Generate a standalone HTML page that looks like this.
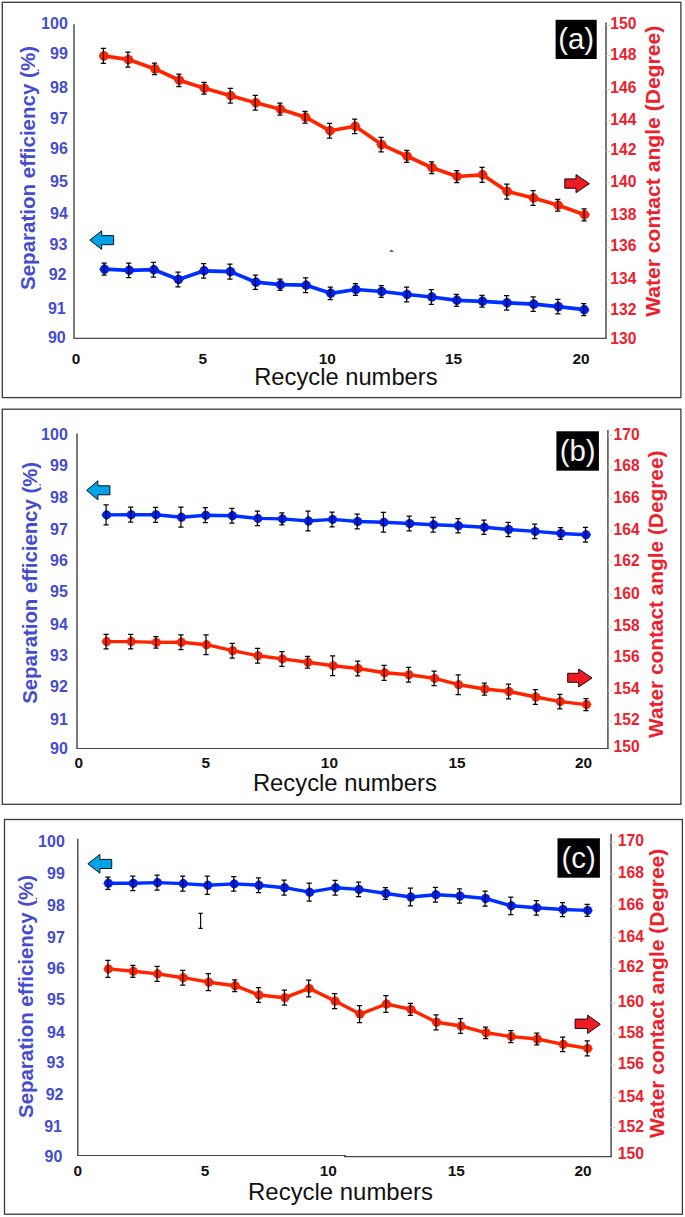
<!DOCTYPE html>
<html lang="en">
<head>
<meta charset="utf-8">
<title>Separation efficiency and water contact angle vs recycle numbers</title>
<style>
html,body{margin:0;padding:0;background:#fff;}
body{width:685px;height:1217px;overflow:hidden;font-family:'Liberation Sans', sans-serif;}
svg{display:block;}
svg text{font-family:'Liberation Sans', sans-serif;}
</style>
</head>
<body>
<svg width="685" height="1217" viewBox="0 0 685 1217">
<rect x="0" y="0" width="685" height="1217" fill="#fff"/>
<g id="panel-a">
<rect x="2.3" y="2.3" width="678.6" height="395.3" fill="#fff" stroke="#3a3a3a" stroke-width="1.3"/>
<path d="M74 24.3V338" stroke="#5a5a5a" stroke-width="1.6" fill="none"/>
<path d="M606 22.5V338" stroke="#6a6a6a" stroke-width="1.8" fill="none"/>
<path d="M73.3 338.4H606.7" stroke="#484848" stroke-width="1.15" fill="none"/>
<path d="M606 25.4h4.4M606 55.6h4.4M606 89.4h4.4M606 120.8h4.4M606 151.4h4.4M606 182.8h4.4M606 215.9h4.4M606 247.3h4.4M606 279.9h4.4M606 311.3h4.4" stroke="#cfcfcf" stroke-width="1" fill="none"/>
<text x="67.8" y="28.5" text-anchor="end" font-size="16.0" font-weight="700" fill="#444cd0" textLength="26.7" lengthAdjust="spacingAndGlyphs">100</text>
<text x="67.8" y="59.4" text-anchor="end" font-size="16.0" font-weight="700" fill="#444cd0" textLength="17.8" lengthAdjust="spacingAndGlyphs">99</text>
<text x="67.8" y="92.5" text-anchor="end" font-size="16.0" font-weight="700" fill="#444cd0" textLength="17.8" lengthAdjust="spacingAndGlyphs">98</text>
<text x="67.8" y="124.1" text-anchor="end" font-size="16.0" font-weight="700" fill="#444cd0" textLength="17.8" lengthAdjust="spacingAndGlyphs">97</text>
<text x="67.8" y="154.4" text-anchor="end" font-size="16.0" font-weight="700" fill="#444cd0" textLength="17.8" lengthAdjust="spacingAndGlyphs">96</text>
<text x="67.8" y="186.9" text-anchor="end" font-size="16.0" font-weight="700" fill="#444cd0" textLength="17.8" lengthAdjust="spacingAndGlyphs">95</text>
<text x="67.8" y="219.4" text-anchor="end" font-size="16.0" font-weight="700" fill="#444cd0" textLength="17.8" lengthAdjust="spacingAndGlyphs">94</text>
<text x="67.3" y="250.1" text-anchor="end" font-size="16.0" font-weight="700" fill="#444cd0" textLength="17.8" lengthAdjust="spacingAndGlyphs">93</text>
<text x="66.5" y="280" text-anchor="end" font-size="16.0" font-weight="700" fill="#444cd0" textLength="17.8" lengthAdjust="spacingAndGlyphs">92</text>
<text x="65.7" y="313.8" text-anchor="end" font-size="16.0" font-weight="700" fill="#444cd0" textLength="17.8" lengthAdjust="spacingAndGlyphs">91</text>
<text x="65.7" y="343.2" text-anchor="end" font-size="16.0" font-weight="700" fill="#444cd0" textLength="17.8" lengthAdjust="spacingAndGlyphs">90</text>
<text x="610.3" y="29.4" font-size="16.2" font-weight="700" fill="#ef202c" textLength="26" lengthAdjust="spacingAndGlyphs">150</text>
<text x="610.3" y="59.6" font-size="16.2" font-weight="700" fill="#ef202c" textLength="26" lengthAdjust="spacingAndGlyphs">148</text>
<text x="610.3" y="93.4" font-size="16.2" font-weight="700" fill="#ef202c" textLength="26" lengthAdjust="spacingAndGlyphs">146</text>
<text x="610.3" y="124.8" font-size="16.2" font-weight="700" fill="#ef202c" textLength="26" lengthAdjust="spacingAndGlyphs">144</text>
<text x="610.3" y="155.4" font-size="16.2" font-weight="700" fill="#ef202c" textLength="26" lengthAdjust="spacingAndGlyphs">142</text>
<text x="610.3" y="186.8" font-size="16.2" font-weight="700" fill="#ef202c" textLength="26" lengthAdjust="spacingAndGlyphs">140</text>
<text x="610.3" y="219.9" font-size="16.2" font-weight="700" fill="#ef202c" textLength="26" lengthAdjust="spacingAndGlyphs">138</text>
<text x="610.3" y="251.3" font-size="16.2" font-weight="700" fill="#ef202c" textLength="26" lengthAdjust="spacingAndGlyphs">136</text>
<text x="610.3" y="283.9" font-size="16.2" font-weight="700" fill="#ef202c" textLength="26" lengthAdjust="spacingAndGlyphs">134</text>
<text x="610.3" y="315.3" font-size="16.2" font-weight="700" fill="#ef202c" textLength="26" lengthAdjust="spacingAndGlyphs">132</text>
<text x="610.3" y="344.4" font-size="16.2" font-weight="700" fill="#ef202c" textLength="26" lengthAdjust="spacingAndGlyphs">130</text>
<text transform="translate(30.1 168) rotate(-90)" x="0" y="5.05" text-anchor="middle" font-size="19.8" font-weight="700" fill="#444cd0" textLength="244" lengthAdjust="spacingAndGlyphs">Separation efficiency (%)</text>
<text transform="translate(654.6 171.3) rotate(-90)" x="0" y="5" text-anchor="middle" font-size="19.6" font-weight="700" fill="#ef202c" textLength="291" lengthAdjust="spacingAndGlyphs">Water contact angle (Degree)</text>
<text x="76" y="363.7" text-anchor="middle" font-size="15.4" font-weight="700" fill="#111">0</text>
<text x="202.7" y="363.7" text-anchor="middle" font-size="15.4" font-weight="700" fill="#111">5</text>
<text x="327.2" y="363.7" text-anchor="middle" font-size="15.4" font-weight="700" fill="#111">10</text>
<text x="453.6" y="363.7" text-anchor="middle" font-size="15.4" font-weight="700" fill="#111">15</text>
<text x="581" y="363.7" text-anchor="middle" font-size="15.4" font-weight="700" fill="#111">20</text>
<text x="254.2" y="385.2" font-size="23.4" fill="#111" textLength="183.4" lengthAdjust="spacingAndGlyphs">Recycle numbers</text>
<rect x="555.6" y="19.8" width="41.1" height="39.2" fill="#000"/>
<text x="576.15" y="49.1" text-anchor="middle" font-size="29.4" fill="#f4f4f4">(a)</text>
<path d="M89.8 240.1L101.7 230.8V235.6H113.6V244.7H101.7V249.4Z" fill="#00a2e8" stroke="#0a1418" stroke-width="1" stroke-linejoin="miter"/>
<path d="M589.4 183.65L576 174.6V178.9H564.8V188.2H576V192.7Z" fill="#ed1c24" stroke="#1e0606" stroke-width="1" stroke-linejoin="miter"/>
<polyline points="103.9,55.9 128.4,59.6 155,68.9 179.4,80.3 204.5,88.3 230.8,95.8 255.8,102.8 280.4,109.2 305.5,117.2 330.1,130.8 355.2,126.3 381.6,144.6 407.2,156.3 432.1,167.7 457.2,176.5 482.6,174.8 507.3,191.5 533.6,198 558.2,205.3 584.6,214.8" fill="none" stroke="#ff2400" stroke-width="3.7" stroke-linejoin="round" stroke-linecap="round"/>
<g fill="#ff2400"><circle cx="103.9" cy="55.9" r="4.7"/><path d="M98.55 55.9l5.35 -5.35l5.35 5.35l-5.35 5.35z"/><circle cx="128.4" cy="59.6" r="4.7"/><path d="M123.05 59.6l5.35 -5.35l5.35 5.35l-5.35 5.35z"/><circle cx="155" cy="68.9" r="4.7"/><path d="M149.65 68.9l5.35 -5.35l5.35 5.35l-5.35 5.35z"/><circle cx="179.4" cy="80.3" r="4.7"/><path d="M174.05 80.3l5.35 -5.35l5.35 5.35l-5.35 5.35z"/><circle cx="204.5" cy="88.3" r="4.7"/><path d="M199.15 88.3l5.35 -5.35l5.35 5.35l-5.35 5.35z"/><circle cx="230.8" cy="95.8" r="4.7"/><path d="M225.45 95.8l5.35 -5.35l5.35 5.35l-5.35 5.35z"/><circle cx="255.8" cy="102.8" r="4.7"/><path d="M250.45 102.8l5.35 -5.35l5.35 5.35l-5.35 5.35z"/><circle cx="280.4" cy="109.2" r="4.7"/><path d="M275.05 109.2l5.35 -5.35l5.35 5.35l-5.35 5.35z"/><circle cx="305.5" cy="117.2" r="4.7"/><path d="M300.15 117.2l5.35 -5.35l5.35 5.35l-5.35 5.35z"/><circle cx="330.1" cy="130.8" r="4.7"/><path d="M324.75 130.8l5.35 -5.35l5.35 5.35l-5.35 5.35z"/><circle cx="355.2" cy="126.3" r="4.7"/><path d="M349.85 126.3l5.35 -5.35l5.35 5.35l-5.35 5.35z"/><circle cx="381.6" cy="144.6" r="4.7"/><path d="M376.25 144.6l5.35 -5.35l5.35 5.35l-5.35 5.35z"/><circle cx="407.2" cy="156.3" r="4.7"/><path d="M401.85 156.3l5.35 -5.35l5.35 5.35l-5.35 5.35z"/><circle cx="432.1" cy="167.7" r="4.7"/><path d="M426.75 167.7l5.35 -5.35l5.35 5.35l-5.35 5.35z"/><circle cx="457.2" cy="176.5" r="4.7"/><path d="M451.85 176.5l5.35 -5.35l5.35 5.35l-5.35 5.35z"/><circle cx="482.6" cy="174.8" r="4.7"/><path d="M477.25 174.8l5.35 -5.35l5.35 5.35l-5.35 5.35z"/><circle cx="507.3" cy="191.5" r="4.7"/><path d="M501.95 191.5l5.35 -5.35l5.35 5.35l-5.35 5.35z"/><circle cx="533.6" cy="198" r="4.7"/><path d="M528.25 198l5.35 -5.35l5.35 5.35l-5.35 5.35z"/><circle cx="558.2" cy="205.3" r="4.7"/><path d="M552.85 205.3l5.35 -5.35l5.35 5.35l-5.35 5.35z"/><circle cx="584.6" cy="214.8" r="4.7"/><path d="M579.25 214.8l5.35 -5.35l5.35 5.35l-5.35 5.35z"/></g>
<path d="M103.4 48.4V63.4M100.8 48.4h5.2M100.8 63.4h5.2M127.9 52.1V67.1M125.3 52.1h5.2M125.3 67.1h5.2M154.5 63.1V74.7M151.9 63.1h5.2M151.9 74.7h5.2M178.9 74.1V86.5M176.3 74.1h5.2M176.3 86.5h5.2M204 82.4V94.2M201.4 82.4h5.2M201.4 94.2h5.2M230.3 88.4V103.2M227.7 88.4h5.2M227.7 103.2h5.2M255.3 95.4V110.2M252.7 95.4h5.2M252.7 110.2h5.2M279.9 103.2V115.2M277.3 103.2h5.2M277.3 115.2h5.2M305 111.4V123M302.4 111.4h5.2M302.4 123h5.2M329.6 123.4V138.2M327 123.4h5.2M327 138.2h5.2M354.7 119V133.6M352.1 119h5.2M352.1 133.6h5.2M381.1 137.3V151.9M378.5 137.3h5.2M378.5 151.9h5.2M406.7 150.3V162.3M404.1 150.3h5.2M404.1 162.3h5.2M431.6 161.8V173.6M429 161.8h5.2M429 173.6h5.2M456.7 170.5V182.5M454.1 170.5h5.2M454.1 182.5h5.2M482.1 167.3V182.3M479.5 167.3h5.2M479.5 182.3h5.2M506.8 184V199M504.2 184h5.2M504.2 199h5.2M533.1 190.6V205.4M530.5 190.6h5.2M530.5 205.4h5.2M557.7 199.4V211.2M555.1 199.4h5.2M555.1 211.2h5.2M584.1 208.8V220.8M581.5 208.8h5.2M581.5 220.8h5.2" stroke="#050505" stroke-width="1.25" fill="none"/>
<polyline points="104.6,269.2 129.2,270.3 153.9,269.7 178.5,279.5 204.1,270.8 230.4,271.6 255.9,282.2 280.5,284.7 306.1,285.2 330.8,293.3 355.9,289.5 381.7,291.5 407.1,294.5 431.8,297 456.9,300.3 482.5,301.3 507.1,302.8 533.7,304.1 558.4,306.6 584.2,309.7" fill="none" stroke="#0030ff" stroke-width="3.7" stroke-linejoin="round" stroke-linecap="round"/>
<g fill="#0020ee"><circle cx="104.6" cy="269.2" r="4.7"/><path d="M99.25 269.2l5.35 -5.35l5.35 5.35l-5.35 5.35z"/><circle cx="129.2" cy="270.3" r="4.7"/><path d="M123.85 270.3l5.35 -5.35l5.35 5.35l-5.35 5.35z"/><circle cx="153.9" cy="269.7" r="4.7"/><path d="M148.55 269.7l5.35 -5.35l5.35 5.35l-5.35 5.35z"/><circle cx="178.5" cy="279.5" r="4.7"/><path d="M173.15 279.5l5.35 -5.35l5.35 5.35l-5.35 5.35z"/><circle cx="204.1" cy="270.8" r="4.7"/><path d="M198.75 270.8l5.35 -5.35l5.35 5.35l-5.35 5.35z"/><circle cx="230.4" cy="271.6" r="4.7"/><path d="M225.05 271.6l5.35 -5.35l5.35 5.35l-5.35 5.35z"/><circle cx="255.9" cy="282.2" r="4.7"/><path d="M250.55 282.2l5.35 -5.35l5.35 5.35l-5.35 5.35z"/><circle cx="280.5" cy="284.7" r="4.7"/><path d="M275.15 284.7l5.35 -5.35l5.35 5.35l-5.35 5.35z"/><circle cx="306.1" cy="285.2" r="4.7"/><path d="M300.75 285.2l5.35 -5.35l5.35 5.35l-5.35 5.35z"/><circle cx="330.8" cy="293.3" r="4.7"/><path d="M325.45 293.3l5.35 -5.35l5.35 5.35l-5.35 5.35z"/><circle cx="355.9" cy="289.5" r="4.7"/><path d="M350.55 289.5l5.35 -5.35l5.35 5.35l-5.35 5.35z"/><circle cx="381.7" cy="291.5" r="4.7"/><path d="M376.35 291.5l5.35 -5.35l5.35 5.35l-5.35 5.35z"/><circle cx="407.1" cy="294.5" r="4.7"/><path d="M401.75 294.5l5.35 -5.35l5.35 5.35l-5.35 5.35z"/><circle cx="431.8" cy="297" r="4.7"/><path d="M426.45 297l5.35 -5.35l5.35 5.35l-5.35 5.35z"/><circle cx="456.9" cy="300.3" r="4.7"/><path d="M451.55 300.3l5.35 -5.35l5.35 5.35l-5.35 5.35z"/><circle cx="482.5" cy="301.3" r="4.7"/><path d="M477.15 301.3l5.35 -5.35l5.35 5.35l-5.35 5.35z"/><circle cx="507.1" cy="302.8" r="4.7"/><path d="M501.75 302.8l5.35 -5.35l5.35 5.35l-5.35 5.35z"/><circle cx="533.7" cy="304.1" r="4.7"/><path d="M528.35 304.1l5.35 -5.35l5.35 5.35l-5.35 5.35z"/><circle cx="558.4" cy="306.6" r="4.7"/><path d="M553.05 306.6l5.35 -5.35l5.35 5.35l-5.35 5.35z"/><circle cx="584.2" cy="309.7" r="4.7"/><path d="M578.85 309.7l5.35 -5.35l5.35 5.35l-5.35 5.35z"/></g>
<path d="M104.1 263.2V275.2M101.5 263.2h5.2M101.5 275.2h5.2M128.7 263V277.6M126.1 263h5.2M126.1 277.6h5.2M153.4 262.3V277.1M150.8 262.3h5.2M150.8 277.1h5.2M178 272.2V286.8M175.4 272.2h5.2M175.4 286.8h5.2M203.6 263.5V278.1M201 263.5h5.2M201 278.1h5.2M229.9 264.2V279M227.3 264.2h5.2M227.3 279h5.2M255.4 275V289.4M252.8 275h5.2M252.8 289.4h5.2M280 279V290.4M277.4 279h5.2M277.4 290.4h5.2M305.6 277.9V292.5M303 277.9h5.2M303 292.5h5.2M330.3 287.1V299.5M327.7 287.1h5.2M327.7 299.5h5.2M355.4 283.6V295.4M352.8 283.6h5.2M352.8 295.4h5.2M381.2 285.7V297.3M378.6 285.7h5.2M378.6 297.3h5.2M406.6 287.2V301.8M404 287.2h5.2M404 301.8h5.2M431.3 289.7V304.3M428.7 289.7h5.2M428.7 304.3h5.2M456.4 294.3V306.3M453.8 294.3h5.2M453.8 306.3h5.2M482 295.4V307.2M479.4 295.4h5.2M479.4 307.2h5.2M506.6 295.5V310.1M504 295.5h5.2M504 310.1h5.2M533.2 296.8V311.4M530.6 296.8h5.2M530.6 311.4h5.2M557.9 299.3V313.9M555.3 299.3h5.2M555.3 313.9h5.2M583.7 303.7V315.7M581.1 303.7h5.2M581.1 315.7h5.2" stroke="#050505" stroke-width="1.25" fill="none"/>
<path d="M389.5 251.2H393.5M391.6 251.2V249.8" stroke="#222" stroke-width="0.9" fill="none"/><rect x="37.6" y="69.4" width="1.5" height="1.5" fill="#555"/>
</g>
<g id="panel-b">
<rect x="2.3" y="409.2" width="678.6" height="395.1" fill="#fff" stroke="#3a3a3a" stroke-width="1.3"/>
<path d="M77 433.4V748.5" stroke="#5a5a5a" stroke-width="1.6" fill="none"/>
<path d="M607.9 430.1V748.5" stroke="#6a6a6a" stroke-width="1.8" fill="none"/>
<path d="M76.3 748.5H608.6" stroke="#484848" stroke-width="1.15" fill="none"/>
<path d="M607.9 435.5h4.4M607.9 466.8h4.4M607.9 498.9h4.4M607.9 530.8h4.4M607.9 562.2h4.4M607.9 594.6h4.4M607.9 626.7h4.4M607.9 658h4.4M607.9 690.2h4.4M607.9 721.3h4.4" stroke="#cfcfcf" stroke-width="1" fill="none"/>
<text x="67.8" y="439.8" text-anchor="end" font-size="16.0" font-weight="700" fill="#444cd0" textLength="26.7" lengthAdjust="spacingAndGlyphs">100</text>
<text x="67.8" y="470.6" text-anchor="end" font-size="16.0" font-weight="700" fill="#444cd0" textLength="17.8" lengthAdjust="spacingAndGlyphs">99</text>
<text x="67.8" y="502.7" text-anchor="end" font-size="16.0" font-weight="700" fill="#444cd0" textLength="17.8" lengthAdjust="spacingAndGlyphs">98</text>
<text x="67.8" y="535.1" text-anchor="end" font-size="16.0" font-weight="700" fill="#444cd0" textLength="17.8" lengthAdjust="spacingAndGlyphs">97</text>
<text x="67.8" y="566" text-anchor="end" font-size="16.0" font-weight="700" fill="#444cd0" textLength="17.8" lengthAdjust="spacingAndGlyphs">96</text>
<text x="67.8" y="596.6" text-anchor="end" font-size="16.0" font-weight="700" fill="#444cd0" textLength="17.8" lengthAdjust="spacingAndGlyphs">95</text>
<text x="67.8" y="629.7" text-anchor="end" font-size="16.0" font-weight="700" fill="#444cd0" textLength="17.8" lengthAdjust="spacingAndGlyphs">94</text>
<text x="67.8" y="660.6" text-anchor="end" font-size="16.0" font-weight="700" fill="#444cd0" textLength="17.8" lengthAdjust="spacingAndGlyphs">93</text>
<text x="67.8" y="692" text-anchor="end" font-size="16.0" font-weight="700" fill="#444cd0" textLength="17.8" lengthAdjust="spacingAndGlyphs">92</text>
<text x="67.8" y="724.6" text-anchor="end" font-size="16.0" font-weight="700" fill="#444cd0" textLength="17.8" lengthAdjust="spacingAndGlyphs">91</text>
<text x="67.8" y="753.9" text-anchor="end" font-size="16.0" font-weight="700" fill="#444cd0" textLength="17.8" lengthAdjust="spacingAndGlyphs">90</text>
<text x="613.6" y="439.5" font-size="16.2" font-weight="700" fill="#ef202c" textLength="26" lengthAdjust="spacingAndGlyphs">170</text>
<text x="613.6" y="470.8" font-size="16.2" font-weight="700" fill="#ef202c" textLength="26" lengthAdjust="spacingAndGlyphs">168</text>
<text x="613.6" y="502.9" font-size="16.2" font-weight="700" fill="#ef202c" textLength="26" lengthAdjust="spacingAndGlyphs">166</text>
<text x="613.6" y="534.8" font-size="16.2" font-weight="700" fill="#ef202c" textLength="26" lengthAdjust="spacingAndGlyphs">164</text>
<text x="613.6" y="566.2" font-size="16.2" font-weight="700" fill="#ef202c" textLength="26" lengthAdjust="spacingAndGlyphs">162</text>
<text x="613.6" y="598.6" font-size="16.2" font-weight="700" fill="#ef202c" textLength="26" lengthAdjust="spacingAndGlyphs">160</text>
<text x="613.6" y="630.7" font-size="16.2" font-weight="700" fill="#ef202c" textLength="26" lengthAdjust="spacingAndGlyphs">158</text>
<text x="613.6" y="662" font-size="16.2" font-weight="700" fill="#ef202c" textLength="26" lengthAdjust="spacingAndGlyphs">156</text>
<text x="613.6" y="694.2" font-size="16.2" font-weight="700" fill="#ef202c" textLength="26" lengthAdjust="spacingAndGlyphs">154</text>
<text x="613.6" y="725.3" font-size="16.2" font-weight="700" fill="#ef202c" textLength="26" lengthAdjust="spacingAndGlyphs">152</text>
<text x="613.6" y="752.4" font-size="16.2" font-weight="700" fill="#ef202c" textLength="26" lengthAdjust="spacingAndGlyphs">150</text>
<text transform="translate(32.4 582.9) rotate(-90)" x="0" y="4.95" text-anchor="middle" font-size="19.4" font-weight="700" fill="#444cd0" textLength="241.8" lengthAdjust="spacingAndGlyphs">Separation efficiency (%)</text>
<text transform="translate(657.6 594.3) rotate(-90)" x="0" y="5" text-anchor="middle" font-size="19.6" font-weight="700" fill="#ef202c" textLength="287.4" lengthAdjust="spacingAndGlyphs">Water contact angle (Degree)</text>
<text x="78.8" y="768.2" text-anchor="middle" font-size="15.4" font-weight="700" fill="#111">0</text>
<text x="205.9" y="768.2" text-anchor="middle" font-size="15.4" font-weight="700" fill="#111">5</text>
<text x="329.4" y="768.2" text-anchor="middle" font-size="15.4" font-weight="700" fill="#111">10</text>
<text x="457" y="768.2" text-anchor="middle" font-size="15.4" font-weight="700" fill="#111">15</text>
<text x="583.6" y="768.2" text-anchor="middle" font-size="15.4" font-weight="700" fill="#111">20</text>
<text x="252.9" y="791" font-size="23.4" fill="#111" textLength="184" lengthAdjust="spacingAndGlyphs">Recycle numbers</text>
<rect x="556.4" y="431.3" width="42.5" height="39.4" fill="#000"/>
<text x="577.65" y="460.7" text-anchor="middle" font-size="29.4" fill="#f4f4f4">(b)</text>
<path d="M86.6 490.35L97.9 480.8V485.8H109.9V494.8H97.9V499.9Z" fill="#00a2e8" stroke="#0a1418" stroke-width="1" stroke-linejoin="miter"/>
<path d="M592 678L578.7 669V673.3H567.7V682.3H578.7V687Z" fill="#ed1c24" stroke="#1e0606" stroke-width="1" stroke-linejoin="miter"/>
<polyline points="106.6,514.9 131.2,514.7 156,514.8 181.4,517.2 205.8,515.2 232.4,515.7 257.9,518.4 282.4,518.9 308.5,521 332.6,519.4 357.7,521.5 383.9,522.2 409.7,523.5 433.6,524.7 458.5,525.7 484.4,527.2 508.7,529.5 535.2,531.4 561,533.5 586,534.7" fill="none" stroke="#0030ff" stroke-width="3.4" stroke-linejoin="round" stroke-linecap="round"/>
<g fill="#0020ee"><circle cx="106.6" cy="514.9" r="4.5"/><path d="M101.45 514.9l5.15 -5.15l5.15 5.15l-5.15 5.15z"/><circle cx="131.2" cy="514.7" r="4.5"/><path d="M126.05 514.7l5.15 -5.15l5.15 5.15l-5.15 5.15z"/><circle cx="156" cy="514.8" r="4.5"/><path d="M150.85 514.8l5.15 -5.15l5.15 5.15l-5.15 5.15z"/><circle cx="181.4" cy="517.2" r="4.5"/><path d="M176.25 517.2l5.15 -5.15l5.15 5.15l-5.15 5.15z"/><circle cx="205.8" cy="515.2" r="4.5"/><path d="M200.65 515.2l5.15 -5.15l5.15 5.15l-5.15 5.15z"/><circle cx="232.4" cy="515.7" r="4.5"/><path d="M227.25 515.7l5.15 -5.15l5.15 5.15l-5.15 5.15z"/><circle cx="257.9" cy="518.4" r="4.5"/><path d="M252.75 518.4l5.15 -5.15l5.15 5.15l-5.15 5.15z"/><circle cx="282.4" cy="518.9" r="4.5"/><path d="M277.25 518.9l5.15 -5.15l5.15 5.15l-5.15 5.15z"/><circle cx="308.5" cy="521" r="4.5"/><path d="M303.35 521l5.15 -5.15l5.15 5.15l-5.15 5.15z"/><circle cx="332.6" cy="519.4" r="4.5"/><path d="M327.45 519.4l5.15 -5.15l5.15 5.15l-5.15 5.15z"/><circle cx="357.7" cy="521.5" r="4.5"/><path d="M352.55 521.5l5.15 -5.15l5.15 5.15l-5.15 5.15z"/><circle cx="383.9" cy="522.2" r="4.5"/><path d="M378.75 522.2l5.15 -5.15l5.15 5.15l-5.15 5.15z"/><circle cx="409.7" cy="523.5" r="4.5"/><path d="M404.55 523.5l5.15 -5.15l5.15 5.15l-5.15 5.15z"/><circle cx="433.6" cy="524.7" r="4.5"/><path d="M428.45 524.7l5.15 -5.15l5.15 5.15l-5.15 5.15z"/><circle cx="458.5" cy="525.7" r="4.5"/><path d="M453.35 525.7l5.15 -5.15l5.15 5.15l-5.15 5.15z"/><circle cx="484.4" cy="527.2" r="4.5"/><path d="M479.25 527.2l5.15 -5.15l5.15 5.15l-5.15 5.15z"/><circle cx="508.7" cy="529.5" r="4.5"/><path d="M503.55 529.5l5.15 -5.15l5.15 5.15l-5.15 5.15z"/><circle cx="535.2" cy="531.4" r="4.5"/><path d="M530.05 531.4l5.15 -5.15l5.15 5.15l-5.15 5.15z"/><circle cx="561" cy="533.5" r="4.5"/><path d="M555.85 533.5l5.15 -5.15l5.15 5.15l-5.15 5.15z"/><circle cx="586" cy="534.7" r="4.5"/><path d="M580.85 534.7l5.15 -5.15l5.15 5.15l-5.15 5.15z"/></g>
<path d="M106.1 504.9V524.9M103.5 504.9h5.2M103.5 524.9h5.2M130.7 507.2V522.2M128.1 507.2h5.2M128.1 522.2h5.2M155.5 507.3V522.3M152.9 507.3h5.2M152.9 522.3h5.2M180.9 507.2V527.2M178.3 507.2h5.2M178.3 527.2h5.2M205.3 507.7V522.7M202.7 507.7h5.2M202.7 522.7h5.2M231.9 508.3V523.1M229.3 508.3h5.2M229.3 523.1h5.2M257.4 511.1V525.7M254.8 511.1h5.2M254.8 525.7h5.2M281.9 512.9V524.9M279.3 512.9h5.2M279.3 524.9h5.2M308 511.2V530.8M305.4 511.2h5.2M305.4 530.8h5.2M332.1 512V526.8M329.5 512h5.2M329.5 526.8h5.2M357.2 514.2V528.8M354.6 514.2h5.2M354.6 528.8h5.2M383.4 512.3V532.1M380.8 512.3h5.2M380.8 532.1h5.2M409.2 516.2V530.8M406.6 516.2h5.2M406.6 530.8h5.2M433.1 517.3V532.1M430.5 517.3h5.2M430.5 532.1h5.2M458 518.5V532.9M455.4 518.5h5.2M455.4 532.9h5.2M483.9 520V534.4M481.3 520h5.2M481.3 534.4h5.2M508.2 522.3V536.7M505.6 522.3h5.2M505.6 536.7h5.2M534.7 524.1V538.7M532.1 524.1h5.2M532.1 538.7h5.2M560.5 527.6V539.4M557.9 527.6h5.2M557.9 539.4h5.2M585.5 527.4V542M582.9 527.4h5.2M582.9 542h5.2" stroke="#050505" stroke-width="1.25" fill="none"/>
<polyline points="106.6,641.6 131.2,641.6 156.4,642.4 181.4,642.2 206.5,644.7 232.7,650.7 258.1,655.8 282.4,658.9 308,662.2 333.1,665.7 358.2,668.5 384.6,672.8 409,674.8 434.6,678.4 458.7,684.7 484.9,689 509,691.5 535.8,697 560.3,701.6 586.5,704.6" fill="none" stroke="#ff2400" stroke-width="3.4" stroke-linejoin="round" stroke-linecap="round"/>
<g fill="#ff2400"><circle cx="106.6" cy="641.6" r="4.5"/><path d="M101.45 641.6l5.15 -5.15l5.15 5.15l-5.15 5.15z"/><circle cx="131.2" cy="641.6" r="4.5"/><path d="M126.05 641.6l5.15 -5.15l5.15 5.15l-5.15 5.15z"/><circle cx="156.4" cy="642.4" r="4.5"/><path d="M151.25 642.4l5.15 -5.15l5.15 5.15l-5.15 5.15z"/><circle cx="181.4" cy="642.2" r="4.5"/><path d="M176.25 642.2l5.15 -5.15l5.15 5.15l-5.15 5.15z"/><circle cx="206.5" cy="644.7" r="4.5"/><path d="M201.35 644.7l5.15 -5.15l5.15 5.15l-5.15 5.15z"/><circle cx="232.7" cy="650.7" r="4.5"/><path d="M227.55 650.7l5.15 -5.15l5.15 5.15l-5.15 5.15z"/><circle cx="258.1" cy="655.8" r="4.5"/><path d="M252.95 655.8l5.15 -5.15l5.15 5.15l-5.15 5.15z"/><circle cx="282.4" cy="658.9" r="4.5"/><path d="M277.25 658.9l5.15 -5.15l5.15 5.15l-5.15 5.15z"/><circle cx="308" cy="662.2" r="4.5"/><path d="M302.85 662.2l5.15 -5.15l5.15 5.15l-5.15 5.15z"/><circle cx="333.1" cy="665.7" r="4.5"/><path d="M327.95 665.7l5.15 -5.15l5.15 5.15l-5.15 5.15z"/><circle cx="358.2" cy="668.5" r="4.5"/><path d="M353.05 668.5l5.15 -5.15l5.15 5.15l-5.15 5.15z"/><circle cx="384.6" cy="672.8" r="4.5"/><path d="M379.45 672.8l5.15 -5.15l5.15 5.15l-5.15 5.15z"/><circle cx="409" cy="674.8" r="4.5"/><path d="M403.85 674.8l5.15 -5.15l5.15 5.15l-5.15 5.15z"/><circle cx="434.6" cy="678.4" r="4.5"/><path d="M429.45 678.4l5.15 -5.15l5.15 5.15l-5.15 5.15z"/><circle cx="458.7" cy="684.7" r="4.5"/><path d="M453.55 684.7l5.15 -5.15l5.15 5.15l-5.15 5.15z"/><circle cx="484.9" cy="689" r="4.5"/><path d="M479.75 689l5.15 -5.15l5.15 5.15l-5.15 5.15z"/><circle cx="509" cy="691.5" r="4.5"/><path d="M503.85 691.5l5.15 -5.15l5.15 5.15l-5.15 5.15z"/><circle cx="535.8" cy="697" r="4.5"/><path d="M530.65 697l5.15 -5.15l5.15 5.15l-5.15 5.15z"/><circle cx="560.3" cy="701.6" r="4.5"/><path d="M555.15 701.6l5.15 -5.15l5.15 5.15l-5.15 5.15z"/><circle cx="586.5" cy="704.6" r="4.5"/><path d="M581.35 704.6l5.15 -5.15l5.15 5.15l-5.15 5.15z"/></g>
<path d="M106.1 634.3V648.9M103.5 634.3h5.2M103.5 648.9h5.2M130.7 634.3V648.9M128.1 634.3h5.2M128.1 648.9h5.2M155.9 636.6V648.2M153.3 636.6h5.2M153.3 648.2h5.2M180.9 634.8V649.6M178.3 634.8h5.2M178.3 649.6h5.2M206 634.8V654.6M203.4 634.8h5.2M203.4 654.6h5.2M232.2 643.3V658.1M229.6 643.3h5.2M229.6 658.1h5.2M257.6 648.4V663.2M255 648.4h5.2M255 663.2h5.2M281.9 651.5V666.3M279.3 651.5h5.2M279.3 666.3h5.2M307.5 656.3V668.1M304.9 656.3h5.2M304.9 668.1h5.2M332.6 655.9V675.5M330 655.9h5.2M330 675.5h5.2M357.7 661.2V675.8M355.1 661.2h5.2M355.1 675.8h5.2M384.1 665.3V680.3M381.5 665.3h5.2M381.5 680.3h5.2M408.5 667.4V682.2M405.9 667.4h5.2M405.9 682.2h5.2M434.1 671.1V685.7M431.5 671.1h5.2M431.5 685.7h5.2M458.2 674.9V694.5M455.6 674.9h5.2M455.6 694.5h5.2M484.4 683V695M481.8 683h5.2M481.8 695h5.2M508.5 684.2V698.8M505.9 684.2h5.2M505.9 698.8h5.2M535.3 689.6V704.4M532.7 689.6h5.2M532.7 704.4h5.2M559.8 694.3V708.9M557.2 694.3h5.2M557.2 708.9h5.2M586 698.6V710.6M583.4 698.6h5.2M583.4 710.6h5.2" stroke="#050505" stroke-width="1.25" fill="none"/>
<rect x="39.4" y="484.2" width="1.5" height="1.5" fill="#555"/>
</g>
<g id="panel-c">
<rect x="4.5" y="819.5" width="677.9" height="394.7" fill="#fff" stroke="#3a3a3a" stroke-width="1.3"/>
<path d="M77.8 838.8V1155.5" stroke="#5a5a5a" stroke-width="1.6" fill="none"/>
<path d="M611.1 833.8V1156.6" stroke="#6a6a6a" stroke-width="1.8" fill="none"/>
<path d="M77.1 1155.5H345.9" stroke="#484848" stroke-width="1.15" fill="none"/>
<path d="M343.9 1156.6H611.8" stroke="#484848" stroke-width="1.15" fill="none"/>
<path d="M611.1 842.3h4.4M611.1 874.1h4.4M611.1 906.2h4.4M611.1 937.5h4.4M611.1 968.4h4.4M611.1 1002.7h4.4M611.1 1034h4.4M611.1 1064.9h4.4M611.1 1097.5h4.4M611.1 1127.6h4.4" stroke="#cfcfcf" stroke-width="1" fill="none"/>
<text x="64.8" y="846.98" text-anchor="end" font-size="16.8" font-weight="700" fill="#444cd0" textLength="26.7" lengthAdjust="spacingAndGlyphs">100</text>
<text x="64.8" y="878.88" text-anchor="end" font-size="16.8" font-weight="700" fill="#444cd0" textLength="17.8" lengthAdjust="spacingAndGlyphs">99</text>
<text x="64.8" y="910.98" text-anchor="end" font-size="16.8" font-weight="700" fill="#444cd0" textLength="17.8" lengthAdjust="spacingAndGlyphs">98</text>
<text x="64.8" y="942.88" text-anchor="end" font-size="16.8" font-weight="700" fill="#444cd0" textLength="17.8" lengthAdjust="spacingAndGlyphs">97</text>
<text x="64.8" y="973.68" text-anchor="end" font-size="16.8" font-weight="700" fill="#444cd0" textLength="17.8" lengthAdjust="spacingAndGlyphs">96</text>
<text x="64.8" y="1005.08" text-anchor="end" font-size="16.8" font-weight="700" fill="#444cd0" textLength="17.8" lengthAdjust="spacingAndGlyphs">95</text>
<text x="64.8" y="1037.78" text-anchor="end" font-size="16.8" font-weight="700" fill="#444cd0" textLength="17.8" lengthAdjust="spacingAndGlyphs">94</text>
<text x="64.3" y="1068.38" text-anchor="end" font-size="16.8" font-weight="700" fill="#444cd0" textLength="17.8" lengthAdjust="spacingAndGlyphs">93</text>
<text x="63.5" y="1100.48" text-anchor="end" font-size="16.8" font-weight="700" fill="#444cd0" textLength="17.8" lengthAdjust="spacingAndGlyphs">92</text>
<text x="62" y="1132.38" text-anchor="end" font-size="16.8" font-weight="700" fill="#444cd0" textLength="17.8" lengthAdjust="spacingAndGlyphs">91</text>
<text x="62.4" y="1161.98" text-anchor="end" font-size="16.8" font-weight="700" fill="#444cd0" textLength="17.8" lengthAdjust="spacingAndGlyphs">90</text>
<text x="617.8" y="846.3" font-size="16.4" font-weight="700" fill="#ef202c" textLength="26.2" lengthAdjust="spacingAndGlyphs">170</text>
<text x="617.8" y="878.1" font-size="16.4" font-weight="700" fill="#ef202c" textLength="26.2" lengthAdjust="spacingAndGlyphs">168</text>
<text x="617.8" y="910.2" font-size="16.4" font-weight="700" fill="#ef202c" textLength="26.2" lengthAdjust="spacingAndGlyphs">166</text>
<text x="617.8" y="941.5" font-size="16.4" font-weight="700" fill="#ef202c" textLength="26.2" lengthAdjust="spacingAndGlyphs">164</text>
<text x="617.8" y="972.4" font-size="16.4" font-weight="700" fill="#ef202c" textLength="26.2" lengthAdjust="spacingAndGlyphs">162</text>
<text x="617.8" y="1006.7" font-size="16.4" font-weight="700" fill="#ef202c" textLength="26.2" lengthAdjust="spacingAndGlyphs">160</text>
<text x="617.8" y="1038" font-size="16.4" font-weight="700" fill="#ef202c" textLength="26.2" lengthAdjust="spacingAndGlyphs">158</text>
<text x="617.8" y="1068.9" font-size="16.4" font-weight="700" fill="#ef202c" textLength="26.2" lengthAdjust="spacingAndGlyphs">156</text>
<text x="617.8" y="1101.5" font-size="16.4" font-weight="700" fill="#ef202c" textLength="26.2" lengthAdjust="spacingAndGlyphs">154</text>
<text x="617.8" y="1131.6" font-size="16.4" font-weight="700" fill="#ef202c" textLength="26.2" lengthAdjust="spacingAndGlyphs">152</text>
<text x="617.8" y="1159.1" font-size="16.4" font-weight="700" fill="#ef202c" textLength="26.2" lengthAdjust="spacingAndGlyphs">150</text>
<text transform="translate(28.5 996.5) rotate(-90)" x="0" y="4.95" text-anchor="middle" font-size="19.4" font-weight="700" fill="#444cd0" textLength="243" lengthAdjust="spacingAndGlyphs">Separation efficiency (%)</text>
<text transform="translate(659 993.4) rotate(-90)" x="0" y="5" text-anchor="middle" font-size="19.6" font-weight="700" fill="#ef202c" textLength="289.2" lengthAdjust="spacingAndGlyphs">Water contact angle (Degree)</text>
<text x="77.8" y="1175.6" text-anchor="middle" font-size="15.4" font-weight="700" fill="#111">0</text>
<text x="205" y="1175.6" text-anchor="middle" font-size="15.4" font-weight="700" fill="#111">5</text>
<text x="328.3" y="1175.6" text-anchor="middle" font-size="15.4" font-weight="700" fill="#111">10</text>
<text x="456.3" y="1175.6" text-anchor="middle" font-size="15.4" font-weight="700" fill="#111">15</text>
<text x="583" y="1175.6" text-anchor="middle" font-size="15.4" font-weight="700" fill="#111">20</text>
<text x="248.1" y="1200.4" font-size="23.4" fill="#111" textLength="184.8" lengthAdjust="spacingAndGlyphs">Recycle numbers</text>
<rect x="557.5" y="838.3" width="42.4" height="39.4" fill="#000"/>
<text x="578.7" y="867.7" text-anchor="middle" font-size="29.4" fill="#f4f4f4">(c)</text>
<path d="M87.8 863.8L99.9 854.4V859.4H111.7V868.5H99.9V873.2Z" fill="#00a2e8" stroke="#0a1418" stroke-width="1" stroke-linejoin="miter"/>
<path d="M600.3 1024.3L587.6 1015.1V1019.1H575.1V1028.5H587.6V1033.5Z" fill="#ed1c24" stroke="#1e0606" stroke-width="1" stroke-linejoin="miter"/>
<polyline points="108.4,883.2 133.3,883.3 157.6,882.6 183.2,883.6 207.8,885.2 234.2,883.9 259,885.2 284.6,887.7 309.7,892.2 335.6,887.7 359,889.4 385.9,893.5 410.9,897 435.9,894.7 460,896 485.6,898.5 511.3,905.8 536.8,907.8 563,909.5 587.7,910.4" fill="none" stroke="#0030ff" stroke-width="3.4" stroke-linejoin="round" stroke-linecap="round"/>
<g fill="#0020ee"><circle cx="108.4" cy="883.2" r="4.5"/><path d="M103.25 883.2l5.15 -5.15l5.15 5.15l-5.15 5.15z"/><circle cx="133.3" cy="883.3" r="4.5"/><path d="M128.15 883.3l5.15 -5.15l5.15 5.15l-5.15 5.15z"/><circle cx="157.6" cy="882.6" r="4.5"/><path d="M152.45 882.6l5.15 -5.15l5.15 5.15l-5.15 5.15z"/><circle cx="183.2" cy="883.6" r="4.5"/><path d="M178.05 883.6l5.15 -5.15l5.15 5.15l-5.15 5.15z"/><circle cx="207.8" cy="885.2" r="4.5"/><path d="M202.65 885.2l5.15 -5.15l5.15 5.15l-5.15 5.15z"/><circle cx="234.2" cy="883.9" r="4.5"/><path d="M229.05 883.9l5.15 -5.15l5.15 5.15l-5.15 5.15z"/><circle cx="259" cy="885.2" r="4.5"/><path d="M253.85 885.2l5.15 -5.15l5.15 5.15l-5.15 5.15z"/><circle cx="284.6" cy="887.7" r="4.5"/><path d="M279.45 887.7l5.15 -5.15l5.15 5.15l-5.15 5.15z"/><circle cx="309.7" cy="892.2" r="4.5"/><path d="M304.55 892.2l5.15 -5.15l5.15 5.15l-5.15 5.15z"/><circle cx="335.6" cy="887.7" r="4.5"/><path d="M330.45 887.7l5.15 -5.15l5.15 5.15l-5.15 5.15z"/><circle cx="359" cy="889.4" r="4.5"/><path d="M353.85 889.4l5.15 -5.15l5.15 5.15l-5.15 5.15z"/><circle cx="385.9" cy="893.5" r="4.5"/><path d="M380.75 893.5l5.15 -5.15l5.15 5.15l-5.15 5.15z"/><circle cx="410.9" cy="897" r="4.5"/><path d="M405.75 897l5.15 -5.15l5.15 5.15l-5.15 5.15z"/><circle cx="435.9" cy="894.7" r="4.5"/><path d="M430.75 894.7l5.15 -5.15l5.15 5.15l-5.15 5.15z"/><circle cx="460" cy="896" r="4.5"/><path d="M454.85 896l5.15 -5.15l5.15 5.15l-5.15 5.15z"/><circle cx="485.6" cy="898.5" r="4.5"/><path d="M480.45 898.5l5.15 -5.15l5.15 5.15l-5.15 5.15z"/><circle cx="511.3" cy="905.8" r="4.5"/><path d="M506.15 905.8l5.15 -5.15l5.15 5.15l-5.15 5.15z"/><circle cx="536.8" cy="907.8" r="4.5"/><path d="M531.65 907.8l5.15 -5.15l5.15 5.15l-5.15 5.15z"/><circle cx="563" cy="909.5" r="4.5"/><path d="M557.85 909.5l5.15 -5.15l5.15 5.15l-5.15 5.15z"/><circle cx="587.7" cy="910.4" r="4.5"/><path d="M582.55 910.4l5.15 -5.15l5.15 5.15l-5.15 5.15z"/></g>
<path d="M107.9 877.1V889.3M105.3 877.1h5.2M105.3 889.3h5.2M132.8 876.1V890.5M130.2 876.1h5.2M130.2 890.5h5.2M157.1 875.1V890.1M154.5 875.1h5.2M154.5 890.1h5.2M182.7 876.1V891.1M180.1 876.1h5.2M180.1 891.1h5.2M207.3 876V894.4M204.7 876h5.2M204.7 894.4h5.2M233.7 876.6V891.2M231.1 876.6h5.2M231.1 891.2h5.2M258.5 877.9V892.5M255.9 877.9h5.2M255.9 892.5h5.2M284.1 880.2V895.2M281.5 880.2h5.2M281.5 895.2h5.2M309.2 883.2V901.2M306.6 883.2h5.2M306.6 901.2h5.2M335.1 880.4V895M332.5 880.4h5.2M332.5 895h5.2M358.5 882.1V896.7M355.9 882.1h5.2M355.9 896.7h5.2M385.4 887.6V899.4M382.8 887.6h5.2M382.8 899.4h5.2M410.4 888.2V905.8M407.8 888.2h5.2M407.8 905.8h5.2M435.4 887.4V902M432.8 887.4h5.2M432.8 902h5.2M459.5 888.8V903.2M456.9 888.8h5.2M456.9 903.2h5.2M485.1 891V906M482.5 891h5.2M482.5 906h5.2M510.8 897V914.6M508.2 897h5.2M508.2 914.6h5.2M536.3 900.5V915.1M533.7 900.5h5.2M533.7 915.1h5.2M562.5 902.5V916.5M559.9 902.5h5.2M559.9 916.5h5.2M587.2 904.4V916.4M584.6 904.4h5.2M584.6 916.4h5.2" stroke="#050505" stroke-width="1.25" fill="none"/>
<polyline points="108.4,968.9 133.3,971.3 157.6,973.9 183.2,977.7 208.8,982.2 235.2,985.7 259,995 284.9,997.7 309.2,988.4 335.1,1001 360,1014.1 386.4,1004 410.9,1009.4 436.6,1022.3 461,1026 486.1,1032.8 511.3,1036.6 537.3,1039 563.2,1044.3 587.7,1048.4" fill="none" stroke="#ff2400" stroke-width="3.4" stroke-linejoin="round" stroke-linecap="round"/>
<g fill="#ff2400"><circle cx="108.4" cy="968.9" r="4.5"/><path d="M103.25 968.9l5.15 -5.15l5.15 5.15l-5.15 5.15z"/><circle cx="133.3" cy="971.3" r="4.5"/><path d="M128.15 971.3l5.15 -5.15l5.15 5.15l-5.15 5.15z"/><circle cx="157.6" cy="973.9" r="4.5"/><path d="M152.45 973.9l5.15 -5.15l5.15 5.15l-5.15 5.15z"/><circle cx="183.2" cy="977.7" r="4.5"/><path d="M178.05 977.7l5.15 -5.15l5.15 5.15l-5.15 5.15z"/><circle cx="208.8" cy="982.2" r="4.5"/><path d="M203.65 982.2l5.15 -5.15l5.15 5.15l-5.15 5.15z"/><circle cx="235.2" cy="985.7" r="4.5"/><path d="M230.05 985.7l5.15 -5.15l5.15 5.15l-5.15 5.15z"/><circle cx="259" cy="995" r="4.5"/><path d="M253.85 995l5.15 -5.15l5.15 5.15l-5.15 5.15z"/><circle cx="284.9" cy="997.7" r="4.5"/><path d="M279.75 997.7l5.15 -5.15l5.15 5.15l-5.15 5.15z"/><circle cx="309.2" cy="988.4" r="4.5"/><path d="M304.05 988.4l5.15 -5.15l5.15 5.15l-5.15 5.15z"/><circle cx="335.1" cy="1001" r="4.5"/><path d="M329.95 1001l5.15 -5.15l5.15 5.15l-5.15 5.15z"/><circle cx="360" cy="1014.1" r="4.5"/><path d="M354.85 1014.1l5.15 -5.15l5.15 5.15l-5.15 5.15z"/><circle cx="386.4" cy="1004" r="4.5"/><path d="M381.25 1004l5.15 -5.15l5.15 5.15l-5.15 5.15z"/><circle cx="410.9" cy="1009.4" r="4.5"/><path d="M405.75 1009.4l5.15 -5.15l5.15 5.15l-5.15 5.15z"/><circle cx="436.6" cy="1022.3" r="4.5"/><path d="M431.45 1022.3l5.15 -5.15l5.15 5.15l-5.15 5.15z"/><circle cx="461" cy="1026" r="4.5"/><path d="M455.85 1026l5.15 -5.15l5.15 5.15l-5.15 5.15z"/><circle cx="486.1" cy="1032.8" r="4.5"/><path d="M480.95 1032.8l5.15 -5.15l5.15 5.15l-5.15 5.15z"/><circle cx="511.3" cy="1036.6" r="4.5"/><path d="M506.15 1036.6l5.15 -5.15l5.15 5.15l-5.15 5.15z"/><circle cx="537.3" cy="1039" r="4.5"/><path d="M532.15 1039l5.15 -5.15l5.15 5.15l-5.15 5.15z"/><circle cx="563.2" cy="1044.3" r="4.5"/><path d="M558.05 1044.3l5.15 -5.15l5.15 5.15l-5.15 5.15z"/><circle cx="587.7" cy="1048.4" r="4.5"/><path d="M582.55 1048.4l5.15 -5.15l5.15 5.15l-5.15 5.15z"/></g>
<path d="M107.9 960.4V977.4M105.3 960.4h5.2M105.3 977.4h5.2M132.8 965.3V977.3M130.2 965.3h5.2M130.2 977.3h5.2M157.1 966.4V981.4M154.5 966.4h5.2M154.5 981.4h5.2M182.7 970.4V985M180.1 970.4h5.2M180.1 985h5.2M208.3 973.7V990.7M205.7 973.7h5.2M205.7 990.7h5.2M234.7 979.8V991.6M232.1 979.8h5.2M232.1 991.6h5.2M258.5 987.7V1002.3M255.9 987.7h5.2M255.9 1002.3h5.2M284.4 990.2V1005.2M281.8 990.2h5.2M281.8 1005.2h5.2M308.7 980V996.8M306.1 980h5.2M306.1 996.8h5.2M334.6 993.5V1008.5M332 993.5h5.2M332 1008.5h5.2M359.5 1005.6V1022.6M356.9 1005.6h5.2M356.9 1022.6h5.2M385.9 995.7V1012.3M383.3 995.7h5.2M383.3 1012.3h5.2M410.4 1003.4V1015.4M407.8 1003.4h5.2M407.8 1015.4h5.2M436.1 1014.8V1029.8M433.5 1014.8h5.2M433.5 1029.8h5.2M460.5 1018.7V1033.3M457.9 1018.7h5.2M457.9 1033.3h5.2M485.6 1027.1V1038.5M483 1027.1h5.2M483 1038.5h5.2M510.8 1030.6V1042.6M508.2 1030.6h5.2M508.2 1042.6h5.2M536.8 1033.1V1044.9M534.2 1033.1h5.2M534.2 1044.9h5.2M562.7 1037V1051.6M560.1 1037h5.2M560.1 1051.6h5.2M587.2 1040.9V1055.9M584.6 1040.9h5.2M584.6 1055.9h5.2" stroke="#050505" stroke-width="1.25" fill="none"/>
<path d="M200.6 913.3V928.4M198.4 913.3H202.8M198.4 928.4H202.8" stroke="#0a0a0a" stroke-width="1.2" fill="none"/><rect x="35.6" y="897.9" width="1.5" height="1.5" fill="#555"/>
</g>
</svg>
</body>
</html>
